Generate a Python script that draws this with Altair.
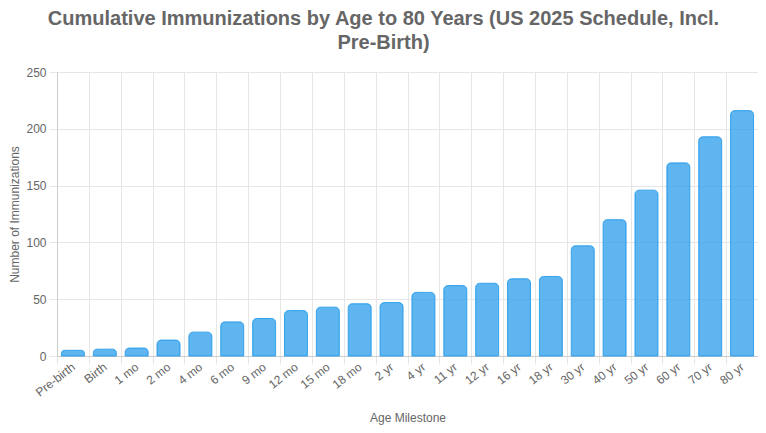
import altair as alt
import pandas as pd

milestones = ["Pre-birth", "Birth", "1 mo", "2 mo", "4 mo", "6 mo", "9 mo", "12 mo",
              "15 mo", "18 mo", "2 yr", "4 yr", "11 yr", "12 yr", "16 yr", "18 yr",
              "30 yr", "40 yr", "50 yr", "60 yr", "70 yr", "80 yr"]
cumulative = [5, 6, 7, 14, 21, 30, 33, 40, 43, 46, 47, 56, 62, 64, 68, 70,
              97, 120, 146, 170, 193, 216]

df = pd.DataFrame({"milestone": milestones, "count": cumulative})

FONT = "Liberation Sans"
GREY = "#666666"

chart = alt.Chart(df).mark_bar(
    width=alt.RelativeBandSize(0.72),
    color="rgba(54,162,235,0.8)",
    stroke="#36A2EB",
    strokeWidth=1,
    cornerRadiusTopLeft=4,
    cornerRadiusTopRight=4,
).encode(
    x=alt.X("milestone:N", sort=milestones, title="Age Milestone",
            scale=alt.Scale(paddingInner=0, paddingOuter=0),
            axis=alt.Axis(labelAngle=-38, labelAlign="right", labelBaseline="middle",
                          tickBand="extent", grid=True, gridColor="#e6e6e6",
                          tickColor="#e6e6e6", tickSize=8, labelPadding=1,
                          domainColor="#cccccc", titlePadding=14)),
    y=alt.Y("count:Q", title="Number of Immunizations",
            scale=alt.Scale(domain=[0, 250]),
            axis=alt.Axis(values=[0, 50, 100, 150, 200, 250], grid=True,
                          gridColor="#e6e6e6", tickColor="#e6e6e6", tickSize=8,
                          labelPadding=3, domainColor="#cccccc", titlePadding=4)),
).properties(
    width=701,
    height=284,
    autosize=alt.AutoSizeParams(type="none"),
    padding={"left": 49, "top": 64, "right": 0, "bottom": 69},
    title=alt.Title(
        ["Cumulative Immunizations by Age to 80 Years (US 2025 Schedule, Incl.", "Pre-Birth)"],
        fontSize=20, font=FONT, fontWeight="bold", color=GREY, anchor="middle",
        frame="group", dx=-24, lineHeight=24, offset=13,
    ),
).configure_axis(
    labelFont=FONT, titleFont=FONT, labelFontSize=12, titleFontSize=12,
    labelColor=GREY, titleColor=GREY, titleFontWeight="normal",
).configure_view(stroke=None)

chart.save("out.html", embed_options={"renderer": "svg", "actions": False})
